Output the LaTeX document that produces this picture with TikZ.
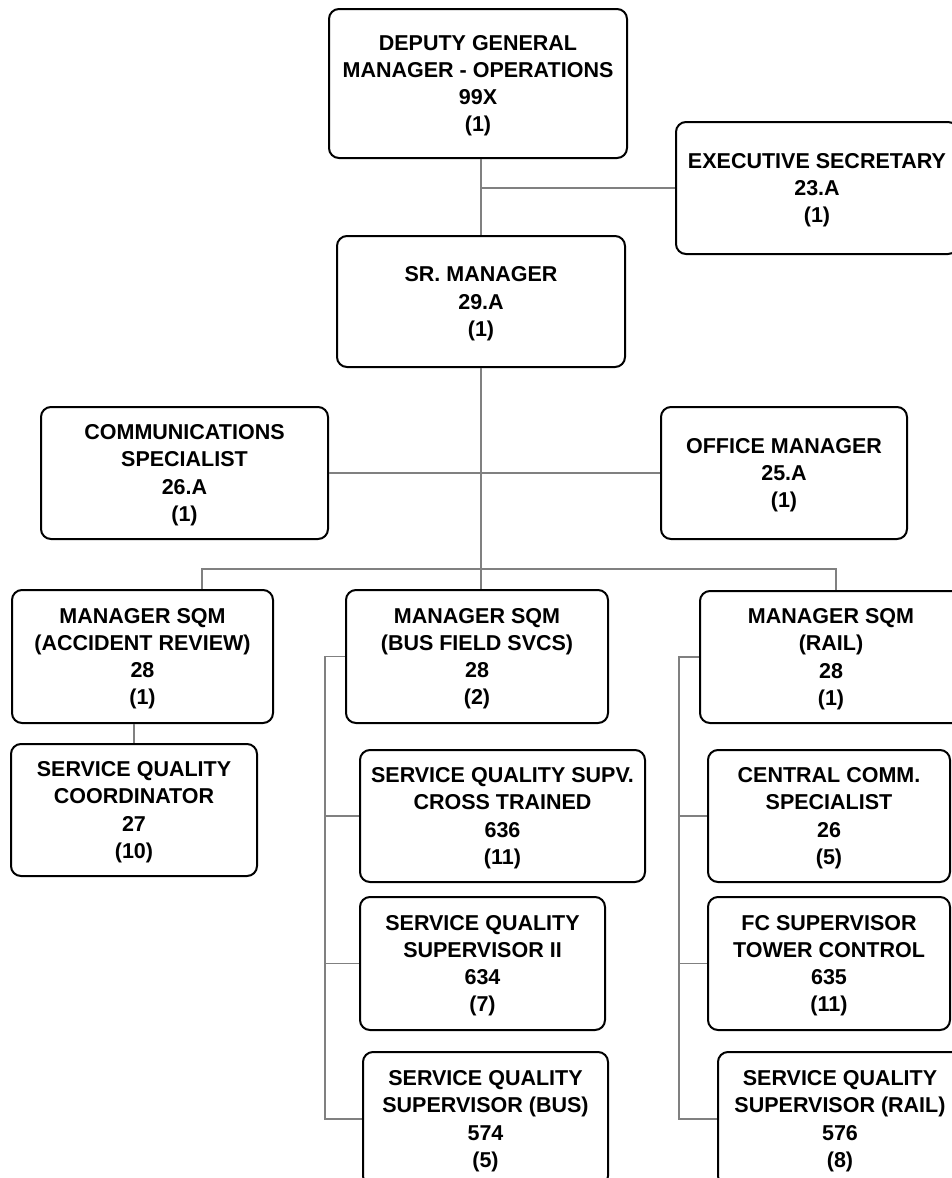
\documentclass[tikz,border=0pt]{standalone}
\usepackage{fontspec}
\setmainfont{Liberation Sans}
\definecolor{linkgray}{HTML}{808080}
\begin{document}
\begin{tikzpicture}[x=1pt,y=-1pt,
  post/.style n args={2}{draw=black, line width=2pt, rounded corners=10pt,
    fill=white, inner sep=0pt, align=center, text depth=0pt,
    minimum width=#1pt, minimum height=#2pt,
    font=\bfseries\fontsize{21.5}{27.3}\selectfont},
  link/.style={draw=linkgray, line width=1.2pt}]
\useasboundingbox (0,0) rectangle (952,1178);
\clip (0,0) rectangle (952,1178);

% top of the chart
\node[post={298}{149}] (dgm) at (478,83.5) {DEPUTY GENERAL\\MANAGER - OPERATIONS\\99X\\(1)};
\node[post={282}{132}] (exec) at (817,188) {EXECUTIVE SECRETARY\\23.A\\(1)};
\node[post={288}{131}] (sr) at (481,301.5) {SR. MANAGER\\29.A\\(1)};
\node[post={287}{132}] (comm) at (184.5,473) {COMMUNICATIONS\\SPECIALIST\\26.A\\(1)};
\node[post={246}{132}] (office) at (784,473) {OFFICE MANAGER\\25.A\\(1)};

% managers
\node[post={261}{133}] (macc) at (142.5,656.5) {MANAGER SQM\\(ACCIDENT REVIEW)\\28\\(1)};
\node[post={262}{133}] (mbus) at (477,656.5) {MANAGER SQM\\(BUS FIELD SVCS)\\28\\(2)};
\node[post={262}{132}] (mrail) at (831,657) {MANAGER SQM\\(RAIL)\\28\\(1)};

% staff
\node[post={246}{132}] (coord) at (134,810) {SERVICE QUALITY\\COORDINATOR\\27\\(10)};
\node[post={285}{132}] (sq1) at (502.5,816) {SERVICE QUALITY SUPV.\\CROSS TRAINED\\636\\(11)};
\node[post={245}{133}] (sq2) at (482.5,963.5) {SERVICE QUALITY\\SUPERVISOR II\\634\\(7)};
\node[post={245}{134}] (sq3) at (485.5,1119) {SERVICE QUALITY\\SUPERVISOR (BUS)\\574\\(5)};
\node[post={242}{132}] (ccomm) at (829,816) {CENTRAL COMM.\\SPECIALIST\\26\\(5)};
\node[post={242}{133}] (fc) at (829,963.5) {FC SUPERVISOR\\TOWER CONTROL\\635\\(11)};
\node[post={244}{134}] (sqrail) at (840,1119) {SERVICE QUALITY\\SUPERVISOR (RAIL)\\576\\(8)};

% connectors
\coordinate (barL) at (202,569);
\coordinate (barR) at (836,569);
\coordinate (busx) at (325,0);
\coordinate (railx) at (679,0);

\draw[link] (sr.north |- dgm.south) -- (sr.north);
\draw[link] (sr.north |- exec.west) -- (exec.west);
\draw[link] (comm.east) -- (office.west);
\draw[link] (sr.south) -- (sr.south |- mbus.north);
\draw[link] (barL |- macc.north) -- (barL) -- (barR) -- (barR |- mrail.north);
\draw[link] (coord.north) -- (coord.north |- macc.south);

\draw[link] (mbus.west) -- (mbus.west -| busx) -- (sq3.west -| busx) -- (sq3.west);
\draw[link] (sq1.west -| busx) -- (sq1.west);
\draw[link] (sq2.west -| busx) -- (sq2.west);

\draw[link] (mrail.west) -- (mrail.west -| railx) -- (sqrail.west -| railx) -- (sqrail.west);
\draw[link] (ccomm.west -| railx) -- (ccomm.west);
\draw[link] (fc.west -| railx) -- (fc.west);
\end{tikzpicture}
\end{document}
